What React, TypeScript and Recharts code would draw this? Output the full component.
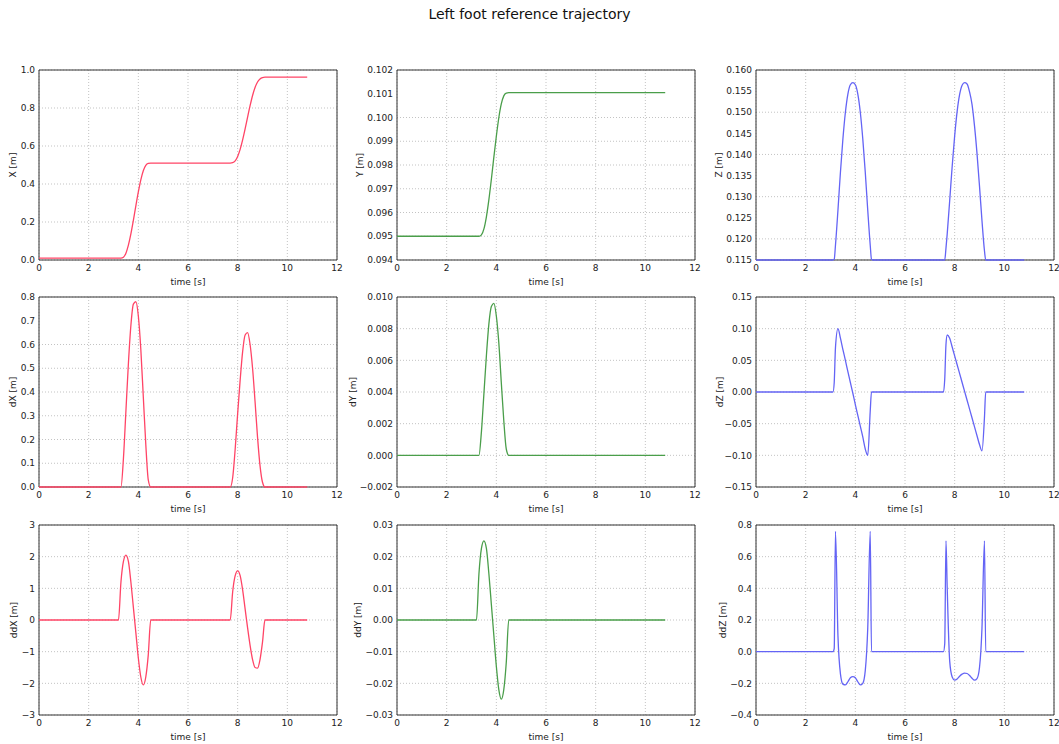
import { LineChart, Line, XAxis, YAxis, CartesianGrid, ReferenceArea } from "recharts";

// sample times [s], shared by every panel
const time = [
  0, 1, 2, 3,
  3.1, 3.15, 3.2, 3.3, 3.4, 3.5, 3.6, 3.7, 3.8, 3.9,
  4.0, 4.1, 4.2, 4.3, 4.4, 4.5, 4.6, 4.65, 4.7, 4.8,
  5, 6, 7, 7.5, 7.55, 7.6, 7.65, 7.7, 7.8, 7.9,
  8.0, 8.1, 8.2, 8.3, 8.4, 8.5, 8.6, 8.7, 8.8, 8.9,
  9.0, 9.1, 9.2, 9.25, 9.3, 10, 10.8,
];

const posX = [
  0.01, 0.01, 0.01, 0.01,
  0.01, 0.01, 0.01, 0.01, 0.015, 0.036, 0.078, 0.137, 0.208, 0.285,
  0.358, 0.422, 0.47, 0.498, 0.508, 0.51, 0.51, 0.51, 0.51, 0.51,
  0.51, 0.51, 0.51, 0.51, 0.51, 0.51, 0.51, 0.51, 0.512, 0.522,
  0.545, 0.582, 0.632, 0.69, 0.752, 0.812, 0.866, 0.908, 0.937, 0.953,
  0.96, 0.962, 0.962, 0.962, 0.962, 0.962, 0.962,
];

const posY = [
  0.095, 0.095, 0.095, 0.095,
  0.095, 0.095, 0.095, 0.095, 0.09506, 0.09531, 0.09582, 0.09654, 0.0974, 0.09833,
  0.09921, 0.09999, 0.10057, 0.10091, 0.10103, 0.10105, 0.10105, 0.10105, 0.10105, 0.10105,
  0.10105, 0.10105, 0.10105, 0.10105, 0.10105, 0.10105, 0.10105, 0.10105, 0.10105, 0.10105,
  0.10105, 0.10105, 0.10105, 0.10105, 0.10105, 0.10105, 0.10105, 0.10105, 0.10105, 0.10105,
  0.10105, 0.10105, 0.10105, 0.10105, 0.10105, 0.10105, 0.10105,
];

const posZ = [
  0.115, 0.115, 0.115, 0.115,
  0.115, 0.1152, 0.1185, 0.1268, 0.1358, 0.1437, 0.15, 0.1543, 0.1565, 0.157,
  0.1565, 0.1543, 0.15, 0.1437, 0.1358, 0.1268, 0.1185, 0.1152, 0.115, 0.115,
  0.115, 0.115, 0.115, 0.115, 0.115, 0.115, 0.1178, 0.1212, 0.1291, 0.1372,
  0.1444, 0.1502, 0.1542, 0.1564, 0.157, 0.1567, 0.1548, 0.1518, 0.1467, 0.1402,
  0.1325, 0.1243, 0.1172, 0.115, 0.115, 0.115, 0.115,
];

const velX = [
  0, 0, 0, 0,
  0, 0, 0, 0, 0.12, 0.32, 0.52, 0.68, 0.77, 0.78,
  0.72, 0.58, 0.38, 0.18, 0.03, 0, 0, 0, 0, 0,
  0, 0, 0, 0, 0, 0, 0, 0, 0.04, 0.16,
  0.31, 0.45, 0.57, 0.64, 0.65, 0.6, 0.5, 0.36, 0.21, 0.09,
  0.02, 0, 0, 0, 0, 0, 0,
];

const velY = [
  0, 0, 0, 0,
  0, 0, 0, 0, 0.0015, 0.0039, 0.0063, 0.0083, 0.0094, 0.0096,
  0.0088, 0.0071, 0.0046, 0.0022, 0.0004, 0, 0, 0, 0, 0,
  0, 0, 0, 0, 0, 0, 0, 0, 0, 0,
  0, 0, 0, 0, 0, 0, 0, 0, 0, 0,
  0, 0, 0, 0, 0, 0, 0,
];

const velZ = [
  0, 0, 0, 0,
  0, 0.015, 0.07, 0.1, 0.085, 0.067, 0.05, 0.032, 0.015, -0.002,
  -0.02, -0.037, -0.054, -0.071, -0.09, -0.1, -0.03, 0, 0, 0,
  0, 0, 0, 0, 0, 0.02, 0.075, 0.09, 0.085, 0.071,
  0.057, 0.043, 0.029, 0.015, 0.001, -0.013, -0.027, -0.041, -0.055, -0.069,
  -0.083, -0.093, -0.04, 0, 0, 0, 0,
];

const accX = [
  0, 0, 0, 0,
  0, 0, 0, 1.2, 1.85, 2.05, 1.85, 1.2, 0.4, -0.4,
  -1.2, -1.8, -2.05, -1.8, -1.1, 0, 0, 0, 0, 0,
  0, 0, 0, 0, 0, 0, 0, 0, 0.9, 1.4,
  1.55, 1.4, 0.95, 0.35, -0.25, -0.8, -1.25, -1.5, -1.52, -1.25,
  -0.7, 0, 0, 0, 0, 0, 0,
];

const accY = [
  0, 0, 0, 0,
  0, 0, 0, 0.0146, 0.0226, 0.025, 0.0226, 0.0146, 0.0049, -0.0049,
  -0.0146, -0.022, -0.025, -0.022, -0.0134, 0, 0, 0, 0, 0,
  0, 0, 0, 0, 0, 0, 0, 0, 0, 0,
  0, 0, 0, 0, 0, 0, 0, 0, 0, 0,
  0, 0, 0, 0, 0, 0, 0,
];

const accZ = [
  0, 0, 0, 0,
  0, 0.02, 0.76, 0.1, -0.14, -0.205, -0.21, -0.19, -0.165, -0.158,
  -0.165, -0.19, -0.21, -0.2, -0.12, 0.15, 0.76, 0, 0, 0,
  0, 0, 0, 0, 0, 0.05, 0.7, 0.4, -0.06, -0.16,
  -0.18, -0.172, -0.155, -0.142, -0.135, -0.138, -0.15, -0.168, -0.18, -0.17,
  -0.1, 0.15, 0.7, 0, 0, 0, 0,
];

const timeTicks = [0, 2, 4, 6, 8, 10, 12];
const xTicks = [0, 0.2, 0.4, 0.6, 0.8, 1.0];
const yTicks = [0.094, 0.095, 0.096, 0.097, 0.098, 0.099, 0.1, 0.101, 0.102];
const zTicks = [0.115, 0.12, 0.125, 0.13, 0.135, 0.14, 0.145, 0.15, 0.155, 0.16];
const dxTicks = [0, 0.1, 0.2, 0.3, 0.4, 0.5, 0.6, 0.7, 0.8];
const dyTicks = [-0.002, 0, 0.002, 0.004, 0.006, 0.008, 0.01];
const dzTicks = [-0.15, -0.1, -0.05, 0, 0.05, 0.1, 0.15];
const ddxTicks = [-3, -2, -1, 0, 1, 2, 3];
const ddyTicks = [-0.03, -0.02, -0.01, 0, 0.01, 0.02, 0.03];
const ddzTicks = [-0.4, -0.2, 0, 0.2, 0.4, 0.6, 0.8];

const RED = "#ff4466";
const GREEN = "#4a9e4a";
const BLUE = "#6464f5";

const FONT = "'DejaVu Sans', sans-serif";
const PLOT_W = 298;
const PLOT_H = 190;
const colLeft = [39, 397, 756];
const rowTop = [70, 297, 525];

const panels = [
  { name: "X [m]", values: posX, ticks: xTicks, digits: 1, color: RED, col: 0, row: 0, lab: 13 },
  { name: "Y [m]", values: posY, ticks: yTicks, digits: 3, color: GREEN, col: 1, row: 0, lab: 13 },
  { name: "Z [m]", values: posZ, ticks: zTicks, digits: 3, color: BLUE, col: 2, row: 0, lab: 13 },
  { name: "dX [m]", values: velX, ticks: dxTicks, digits: 1, color: RED, col: 0, row: 1, lab: 13 },
  { name: "dY [m]", values: velY, ticks: dyTicks, digits: 3, color: GREEN, col: 1, row: 1, lab: 6 },
  { name: "dZ [m]", values: velZ, ticks: dzTicks, digits: 2, color: BLUE, col: 2, row: 1, lab: 14 },
  { name: "ddX [m]", values: accX, ticks: ddxTicks, digits: 0, color: RED, col: 0, row: 2, lab: 14 },
  { name: "ddY [m]", values: accY, ticks: ddyTicks, digits: 2, color: GREEN, col: 1, row: 2, lab: 11 },
  { name: "ddZ [m]", values: accZ, ticks: ddzTicks, digits: 1, color: BLUE, col: 2, row: 2, lab: 17 },
];

const fmt = (digits: number) => (v: number) => v.toFixed(digits).replace("-", "\u2212");

const Panel = ({ p }: { p: (typeof panels)[number] }) => {
  const yw = p.col === 0 ? 39 : 50;
  const left = colLeft[p.col] - yw;
  const top = rowTop[p.row] - 5;
  const data = time.map((t, i) => ({ t, v: p.values[i] }));
  const lo = p.ticks[0];
  const hi = p.ticks[p.ticks.length - 1];
  const tickStyle = { fontSize: 9, fill: "#222", fontFamily: FONT };
  return (
    <div style={{ position: "absolute", left, top }}>
      <LineChart
        width={yw + PLOT_W + 8}
        height={5 + PLOT_H + 32}
        data={data}
        margin={{ top: 5, right: 8, bottom: 0, left: 0 }}
      >
        <CartesianGrid stroke="#b4b4b4" strokeDasharray="1 2" strokeWidth={0.8} />
        <ReferenceArea x1={0} x2={12} y1={lo} y2={hi} fill="none" stroke="#333" strokeWidth={1} ifOverflow="visible" />
        <XAxis
          dataKey="t"
          type="number"
          domain={[0, 12]}
          ticks={timeTicks}
          height={32}
          tickLine={false}
          tickSize={0}
          tickMargin={5}
          axisLine={false}
          tick={tickStyle}
          label={{ value: "time [s]", position: "insideBottom", offset: 7, style: { fontSize: 9, fill: "#222", fontFamily: FONT } }}
        />
        <YAxis
          type="number"
          domain={[lo, hi]}
          ticks={p.ticks}
          width={yw}
          tickLine={false}
          tickSize={0}
          tickMargin={4}
          axisLine={false}
          tick={tickStyle}
          tickFormatter={fmt(p.digits)}
          label={{
            value: p.name,
            angle: -90,
            position: "insideLeft",
            offset: p.lab,
            style: { fontSize: 9, fill: "#222", fontFamily: FONT, textAnchor: "middle" },
          }}
        />
        <Line
          type="monotone"
          dataKey="v"
          stroke={p.color}
          strokeWidth={1.3}
          dot={false}
          isAnimationActive={false}
        />
      </LineChart>
    </div>
  );
};

export default function App() {
  return (
    <div
      style={{
        position: "absolute",
        left: 0,
        top: 0,
        width: 1059,
        height: 744,
        background: "#fff",
        fontFamily: FONT,
      }}
    >
      <div
        style={{
          position: "absolute",
          left: 0,
          top: 6,
          width: 1059,
          textAlign: "center",
          fontSize: 14,
          lineHeight: "16px",
          color: "#111",
        }}
      >
        Left foot reference trajectory
      </div>
      {panels.map((p) => (
        <Panel key={p.name} p={p} />
      ))}
    </div>
  );
}
